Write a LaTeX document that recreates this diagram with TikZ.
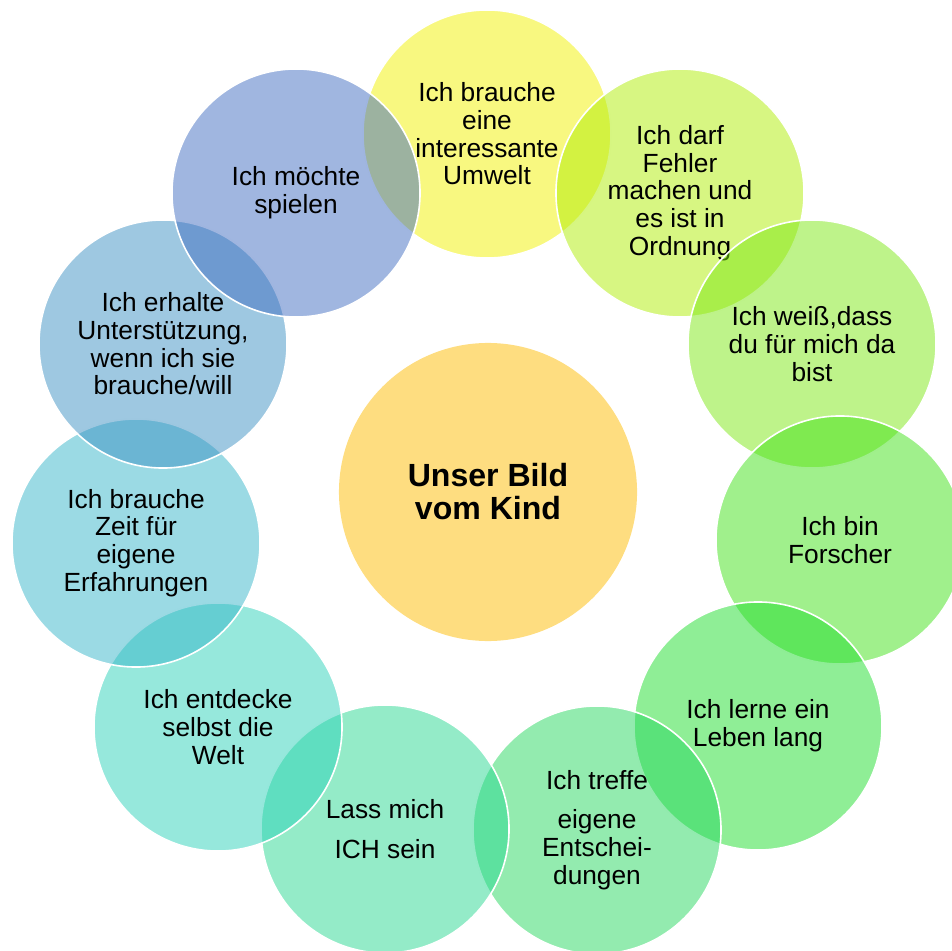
\documentclass[tikz,border=0pt]{standalone}
\usepackage{fontspec}
\setmainfont{Liberation Sans}
\usepackage{tikz}
\usetikzlibrary{shapes.geometric}
\definecolor{corecol}{RGB}{254,221,128}
\definecolor{umweltcol}{RGB}{241,241,1}
\definecolor{fehlercol}{RGB}{175,237,5}
\definecolor{dacol}{RGB}{125,231,21}
\definecolor{forschercol}{RGB}{65,225,25}
\definecolor{lebencol}{RGB}{31,221,45}
\definecolor{entschcol}{RGB}{39,215,95}
\definecolor{ichcol}{RGB}{41,215,145}
\definecolor{weltcol}{RGB}{45,209,185}
\definecolor{zeitcol}{RGB}{55,181,201}
\definecolor{hilfecol}{RGB}{61,145,195}
\definecolor{spielcol}{RGB}{65,109,193}
\tikzstyle{bubble} = [circle,draw=white,line width=0.04cm,fill opacity=0.5,text opacity=1,minimum size=6.2cm,inner sep=0pt,align=center,font=\fontsize{18.7}{19.7}\selectfont]
\tikzstyle{core} = [circle,fill=corecol,minimum size=7.45cm,inner sep=0pt,align=center,font=\fontsize{22.8}{23.5}\selectfont\bfseries]

\begin{document}
\begin{tikzpicture}[x=0.025cm,y=-0.025cm]
        \useasboundingbox (0,0) rectangle (952,951);
        \clip (0,0) rectangle (952,951);
        \node[core] (kind) at (488,492) {Unser Bild\\vom Kind};
        \node[bubble,fill=umweltcol] (umwelt) at (487,134) {Ich brauche\\eine\\interessante\\Umwelt};
        \node[bubble,fill=fehlercol] (fehler) at (680,193) {Ich darf\\Fehler\\machen und\\es ist in\\Ordnung};
        \node[bubble,fill=dacol] (dasein) at (812,344) {Ich weiß,dass\\du für mich da\\bist};
        \node[bubble,fill=forschercol] (forscher) at (840,540) {Ich bin\\Forscher};
        \node[bubble,fill=lebencol] (lernen) at (758,726) {Ich lerne ein\\Leben lang};
        \node[bubble,fill=entschcol] (entscheiden) at (597,830) {Ich treffe\\[8.2pt]eigene\\Entschei-\\dungen};
        \node[bubble,fill=ichcol] (ichsein) at (385,829) {Lass mich\\[8.2pt]ICH sein};
        \node[bubble,fill=weltcol] (welt) at (218,727) {Ich entdecke\\selbst die\\Welt};
        \node[bubble,fill=zeitcol] (zeit) at (136,543) {Ich brauche\\Zeit für\\eigene\\Erfahrungen};
        \node[bubble,fill=hilfecol] (hilfe) at (163,344) {Ich erhalte\\Unterstützung,\\wenn ich sie\\brauche/will};
        \node[bubble,fill=spielcol] (spielen) at (296,193) {Ich möchte\\spielen};
    \end{tikzpicture}
\end{document}
